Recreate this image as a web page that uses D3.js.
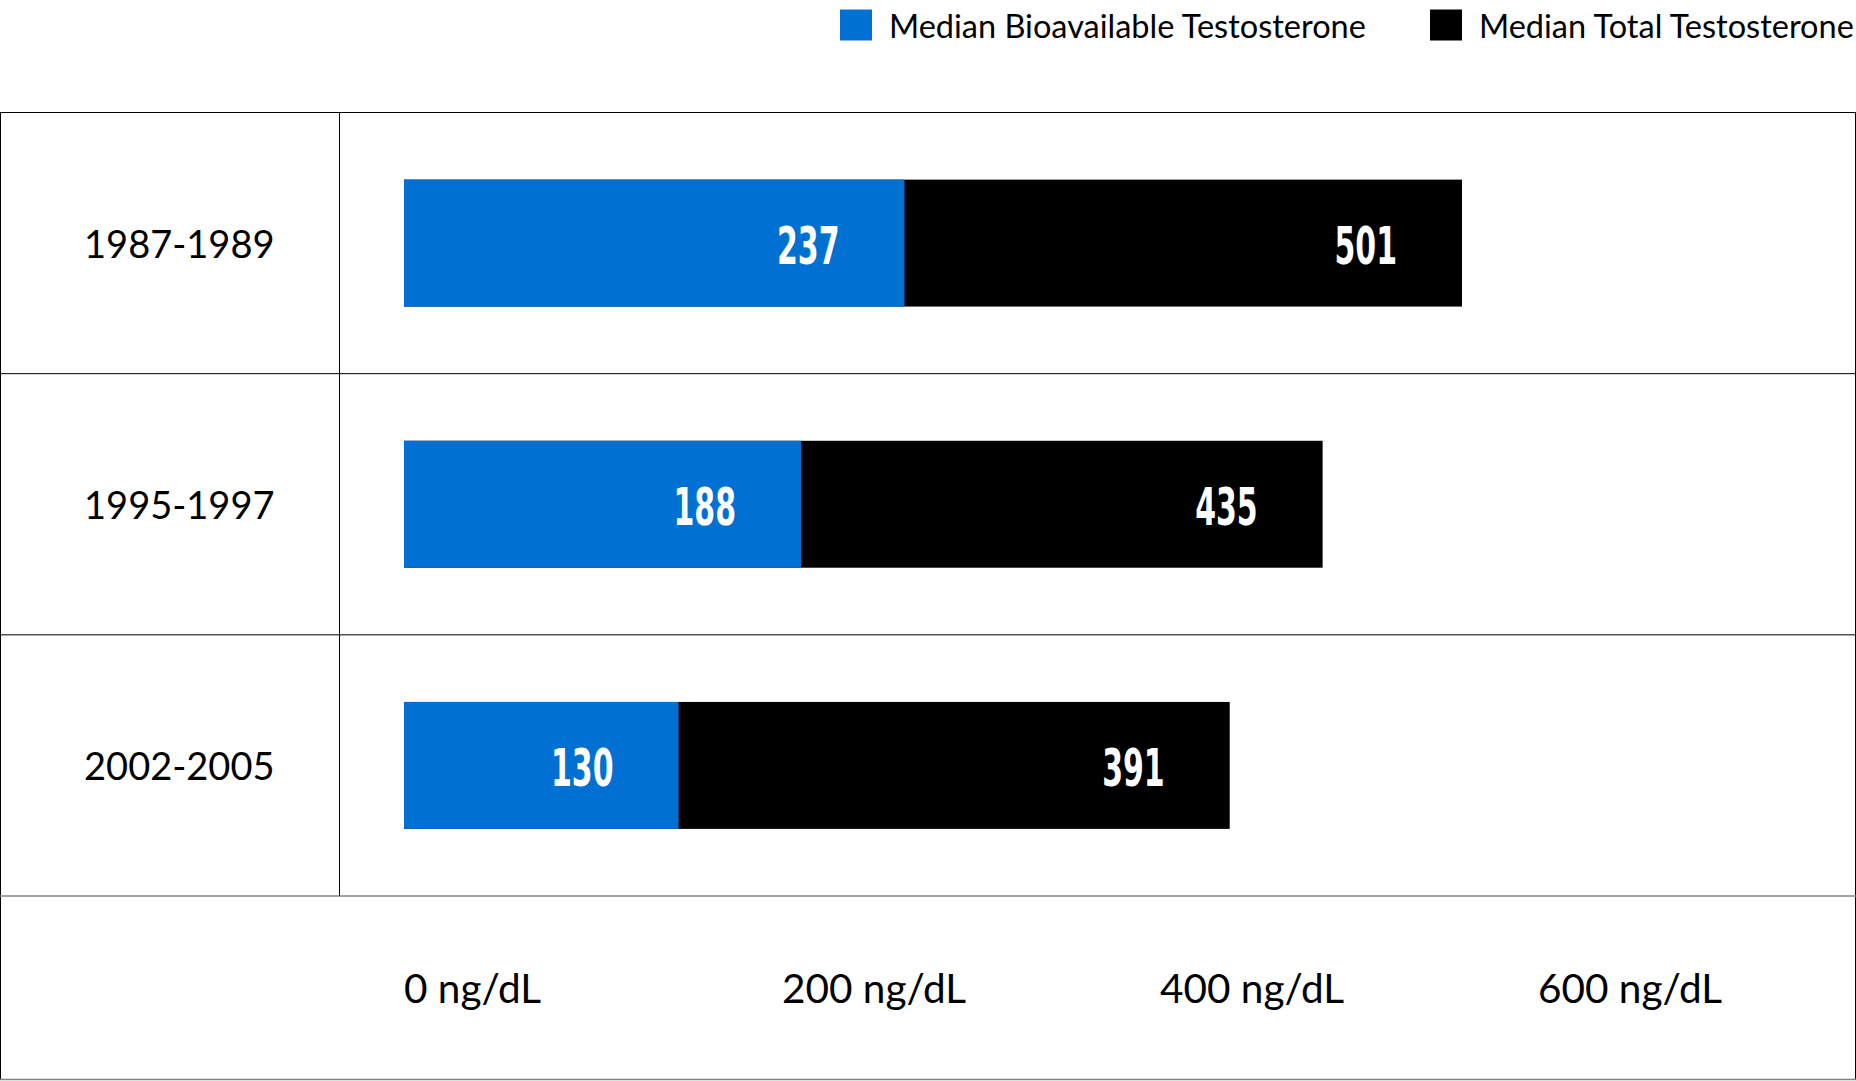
<!DOCTYPE html>
<html>
<head>
<meta charset="utf-8">
<script src="https://cdn.jsdelivr.net/npm/d3@7"></script>
<style>
  html, body { margin: 0; padding: 0; background: #fff; }
  svg { display: block; }
</style>
</head>
<body>
<svg id="chart"></svg>
<script>
// data
const periods = ['1987-1989', '1995-1997', '2002-2005'];
const bioavailable = [237, 188, 130];
const total = [501, 435, 391];
const tickValues = [0, 200, 400, 600];
const tickLabels = tickValues.map(d => d + ' ng/dL');
const seriesNames = ['Median Bioavailable Testosterone', 'Median Total Testosterone'];
const seriesColors = ['#0070d3', '#000000'];

const W = 1856, H = 1081;
const tableTop = 112.5, rowsBottom = 896, tableBottom = 1079.5;
const divider = 339.5, barStart = 404;
const labelFont = 'Lato, "Noto Sans", sans-serif';
const valueFont = '"Liberation Sans Narrow", "DejaVu Sans Condensed", sans-serif';

const svg = d3.select('#chart').attr('width', W).attr('height', H);

// bars use their own scale; the printed axis in the original is spaced differently
const x = d3.scaleLinear().domain([0, d3.max(total)]).range([barStart, 1462]);
const xAxisScale = d3.scaleLinear().domain([0, 600]).range([barStart, 1538]);

const rows = d3.scaleBand().domain(periods).range([tableTop, rowsBottom]);
const y = d3.scaleBand().domain(periods).range([tableTop, rowsBottom])
    .paddingInner(0.514).paddingOuter(0.257);

// table grid
const grid = svg.append('g').attr('fill', 'none');
grid.append('rect')
    .attr('x', 0.5).attr('y', tableTop)
    .attr('width', W - 1).attr('height', tableBottom - tableTop)
    .attr('stroke', '#000').attr('stroke-width', 1);
periods.slice(1).forEach(p => {
    grid.append('line')
        .attr('x1', 0).attr('x2', W)
        .attr('y1', rows(p)).attr('y2', rows(p))
        .attr('stroke', '#000').attr('stroke-width', 1);
});
grid.append('line')
    .attr('x1', 0).attr('x2', W)
    .attr('y1', rowsBottom).attr('y2', rowsBottom)
    .attr('stroke', '#808080').attr('stroke-width', 1.5);
grid.append('line')
    .attr('x1', 0).attr('x2', W)
    .attr('y1', tableBottom).attr('y2', tableBottom)
    .attr('stroke', '#808080').attr('stroke-width', 1.5);
grid.append('line')
    .attr('x1', divider).attr('x2', divider)
    .attr('y1', tableTop).attr('y2', rowsBottom)
    .attr('stroke', '#000').attr('stroke-width', 1);

// row labels
svg.append('g').selectAll('text')
    .data(periods)
    .join('text')
    .attr('x', divider - 65)
    .attr('y', d => rows(d) + rows.bandwidth() / 2)
    .attr('text-anchor', 'end')
    .attr('dominant-baseline', 'central')
    .attr('font-family', labelFont)
    .attr('font-size', 38)
    .attr('fill', '#000')
    .text(d => d);

// bars: total behind, bioavailable on top
const barData = periods.map((p, i) => ({ period: p, bio: bioavailable[i], total: total[i] }));

svg.append('g').selectAll('rect')
    .data(barData)
    .join('rect')
    .attr('x', x(0))
    .attr('y', d => y(d.period))
    .attr('width', d => x(d.total) - x(0))
    .attr('height', y.bandwidth())
    .attr('fill', seriesColors[1]);

svg.append('g').selectAll('rect')
    .data(barData)
    .join('rect')
    .attr('x', x(0))
    .attr('y', d => y(d.period))
    .attr('width', d => x(d.bio) - x(0))
    .attr('height', y.bandwidth())
    .attr('fill', seriesColors[0]);

// value labels, tall condensed bold, right-aligned inside each bar end
function valueLabels(key) {
    svg.append('g').selectAll('g')
        .data(barData)
        .join('g')
        .attr('transform', d => `translate(${x(d[key]) - 65},${y(d.period) + y.bandwidth() / 2 + 2})`)
        .append('text')
        .attr('transform', 'scale(0.64,1)')
        .attr('text-anchor', 'end')
        .attr('dominant-baseline', 'central')
        .attr('font-family', valueFont)
        .attr('font-weight', 700)
        .attr('font-size', 52)
        .attr('fill', '#fff')
        .text(d => d[key]);
}
valueLabels('bio');
valueLabels('total');

// axis labels in the bottom cell
svg.append('g').selectAll('text')
    .data(tickValues)
    .join('text')
    .attr('x', d => xAxisScale(d))
    .attr('y', (rowsBottom + tableBottom) / 2)
    .attr('dominant-baseline', 'central')
    .attr('font-family', labelFont)
    .attr('font-size', 40.5)
    .attr('fill', '#000')
    .text((d, i) => tickLabels[i]);

// legend
const legendX = [840, 1430];
const legend = svg.append('g');
seriesNames.forEach((name, i) => {
    legend.append('rect')
        .attr('x', legendX[i]).attr('y', 9.5)
        .attr('width', 32).attr('height', 31)
        .attr('fill', seriesColors[i]);
    legend.append('text')
        .attr('x', legendX[i] + 49)
        .attr('y', 25)
        .attr('dominant-baseline', 'central')
        .attr('font-family', labelFont)
        .attr('font-size', 32.5)
        .attr('fill', '#000')
        .text(name);
});
</script>
</body>
</html>
